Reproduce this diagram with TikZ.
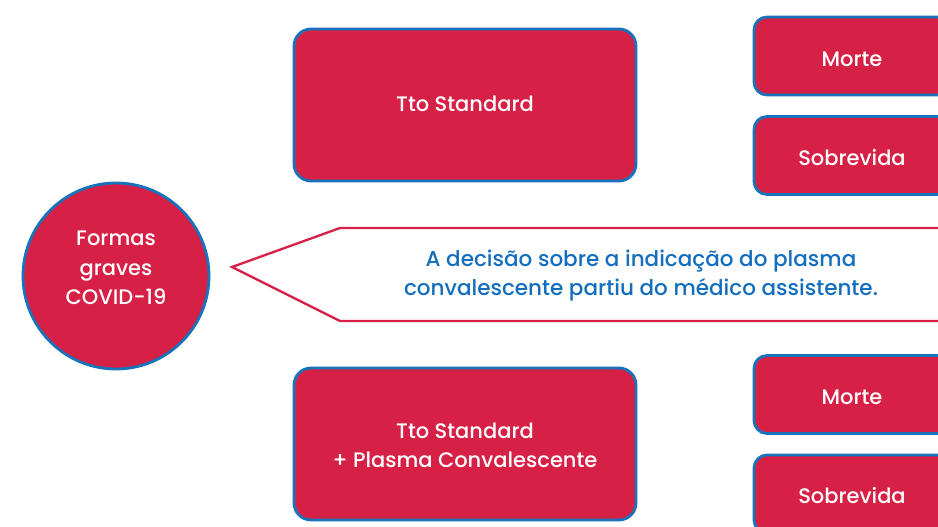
\documentclass[tikz,border=0pt]{standalone}
\usepackage{fontspec}
\setmainfont{Poppins}[UprightFont=* Medium]
\definecolor{cred}{RGB}{215,32,70}
\definecolor{cblue}{RGB}{24,115,188}
\definecolor{ctext}{RGB}{20,110,190}
\begin{document}
\begin{tikzpicture}[x=1pt,y=-1pt,
  redbox/.style={draw=cblue, fill=cred, line width=2.8pt, rounded corners=17pt,
    text=white, align=center, inner sep=0pt,
    font=\fontsize{21}{29}\selectfont},
  bigbox/.style={redbox, minimum width=342pt, minimum height=152pt},
  smallbox/.style={redbox, rounded corners=13pt, minimum width=196pt, minimum height=78pt},
  circ/.style={circle, draw=cblue, fill=cred, line width=2.8pt, minimum size=186pt,
    text=white, align=center, inner sep=0pt, font=\fontsize{21}{29.5}\selectfont},
  pointer/.style={draw=cred, fill=white, line width=2.3pt, line join=miter},
  msg/.style={text=ctext, align=center, font=\fontsize{21.5}{29}\selectfont},
  lbl/.style={text=white, align=center, font=\fontsize{21}{29}\selectfont}
]
\clip (0,0) rectangle (938,527);
\fill[white] (0,0) rectangle (938,527);

\node[circ] (covid) at (116,276) {};
\node[lbl, font=\fontsize{21}{29.5}\selectfont] (covidtxt) at (116,268) {Formas\\graves\\COVID-19};

\node[bigbox] (tto) at (465,105) {};
\node[lbl] (ttotxt) at (465,104) {Tto Standard};
\node[bigbox] (ttopc) at (465,444) {};
\node[lbl] (ttopctxt) at (465,445) {Tto Standard\\+ Plasma Convalescente};

\node[smallbox] (morte1) at (852,56) {};
\node[lbl] (morte1txt) at (852,59) {Morte};
\node[smallbox] (sobre1) at (852,155.5) {};
\node[lbl] (sobre1txt) at (852,157.5) {Sobrevida};
\node[smallbox] (morte2) at (852,394.5) {};
\node[lbl] (morte2txt) at (852,397) {Morte};
\node[smallbox] (sobre2) at (852,494) {};
\node[lbl] (sobre2txt) at (852,496) {Sobrevida};

\draw[pointer] (232,267) -- (340,228) -- (960,228) -- (960,321) -- (340,321) -- cycle;
\node[msg] (decisao) at (641,275.5) {A decisão sobre a indicação do plasma\\convalescente partiu do médico assistente.};
\end{tikzpicture}
\end{document}
